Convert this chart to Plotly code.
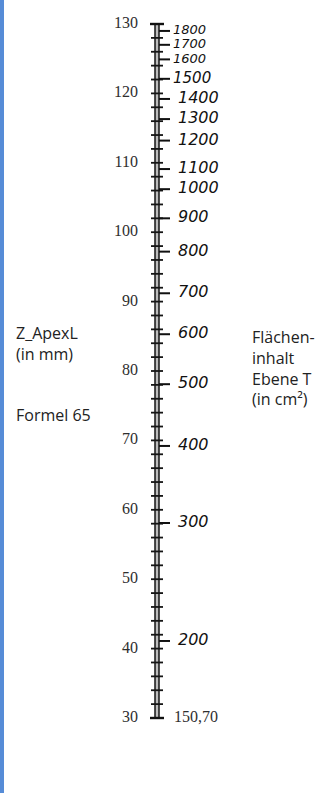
import plotly.graph_objects as go

# Nomogram: Z_ApexL (mm) on the left, area of plane T (cm²) on the right
z_ticks = [30, 40, 50, 60, 70, 80, 90, 100, 110, 120, 130]
z_minor = list(range(30, 131, 2))

area_labels = ["200", "300", "400", "500", "600", "700", "800", "900", "1000",
               "1100", "1200", "1300", "1400", "1500", "1600", "1700", "1800"]
area_at_z = [41.1, 58.1, 69.2, 78.1, 85.3, 91.2, 97.2, 102.0, 106.2,
             109.1, 113.2, 116.3, 119.2, 122.1, 124.9, 127.0, 129.0]
area_base_label = "150,70"
area_base_z = 30

W, H = 328, 793
X_L, X_R = 155, 159  # the two rails of the scale

fig = go.Figure()

# scale rails with light fill between them
fig.add_trace(go.Scatter(x=[X_L, X_R, X_R, X_L, X_L], y=[30, 30, 130, 130, 30],
                         mode="lines", fill="toself", fillcolor="#bdbdbd",
                         line=dict(color="#151515", width=1.5), hoverinfo="skip"))

# minor ticks every 2 mm
tx, ty = [], []
for z in z_minor:
    tx += [151, 163, None]
    ty += [z, z, None]
fig.add_trace(go.Scatter(x=tx, y=ty, mode="lines",
                         line=dict(color="#151515", width=1.8), hoverinfo="skip"))

# end caps
cx, cy = [], []
for z in (30, 130):
    cx += [150, 164, None]
    cy += [z, z, None]
fig.add_trace(go.Scatter(x=cx, y=cy, mode="lines",
                         line=dict(color="#111", width=2.4), hoverinfo="skip"))

# area marks on the right side
ax_, ay_ = [], []
for z in area_at_z:
    ax_ += [X_R, 170, None]
    ay_ += [z, z, None]
fig.add_trace(go.Scatter(x=ax_, y=ay_, mode="lines",
                         line=dict(color="#111", width=2), hoverinfo="skip"))

# mm labels
fig.add_trace(go.Scatter(x=[138] * len(z_ticks), y=z_ticks, mode="text",
                         text=[str(v) for v in z_ticks], textposition="middle left",
                         textfont=dict(family="Liberation Serif", size=16, color="#2e2e2e"),
                         hoverinfo="skip"))

# area labels (hand lettered); the crowded top end is written smaller
def label_size(a):
    v = int(a)
    return 13 if v >= 1600 else (15 if v == 1500 else 16)

def label_x(a):
    return 173 if int(a) >= 1500 else 178

fig.add_trace(go.Scatter(x=[label_x(a) for a in area_labels], y=area_at_z,
                         mode="text", text=area_labels, textposition="middle right",
                         textfont=dict(family="DejaVu Sans",
                                       size=[label_size(a) for a in area_labels],
                                       color="#111", style="italic"),
                         hoverinfo="skip"))
fig.add_trace(go.Scatter(x=[174], y=[area_base_z], mode="text",
                         text=[area_base_label], textposition="middle right",
                         textfont=dict(family="Liberation Serif", size=16, color="#2e2e2e"),
                         hoverinfo="skip"))

# side captions
cap_font = dict(family="Open Sans", size=16, color="#222")
fig.add_annotation(x=14, y=83.9, text="Z_ApexL<br>(in mm)", showarrow=False,
                   xanchor="left", yanchor="middle", align="left", font=cap_font)
fig.add_annotation(x=14, y=73.6, text="Formel 65", showarrow=False,
                   xanchor="left", yanchor="middle", align="left", font=cap_font)
fig.add_annotation(x=250, y=80.4, text="Flächen-<br>inhalt<br>Ebene T<br>(in cm²)",
                   showarrow=False, xanchor="left", yanchor="middle", align="left",
                   font=cap_font)

# blue strip along the left edge
fig.add_shape(type="rect", xref="paper", yref="paper", x0=0, x1=4 / W, y0=0, y1=1,
              fillcolor="#568cd7", line=dict(width=0), layer="above")

px_per_mm = 6.94
y_top = 130 + 24 / px_per_mm
y_bot = 30 - (H - 718) / px_per_mm

fig.update_layout(
    width=W, height=H, autosize=False,
    margin=dict(l=0, r=0, t=0, b=0),
    paper_bgcolor="white", plot_bgcolor="white",
    showlegend=False,
    xaxis=dict(range=[0, W], visible=False, fixedrange=True),
    yaxis=dict(range=[y_bot, y_top], visible=False, fixedrange=True),
)

fig.write_html("out.html", config={"displayModeBar": False})
